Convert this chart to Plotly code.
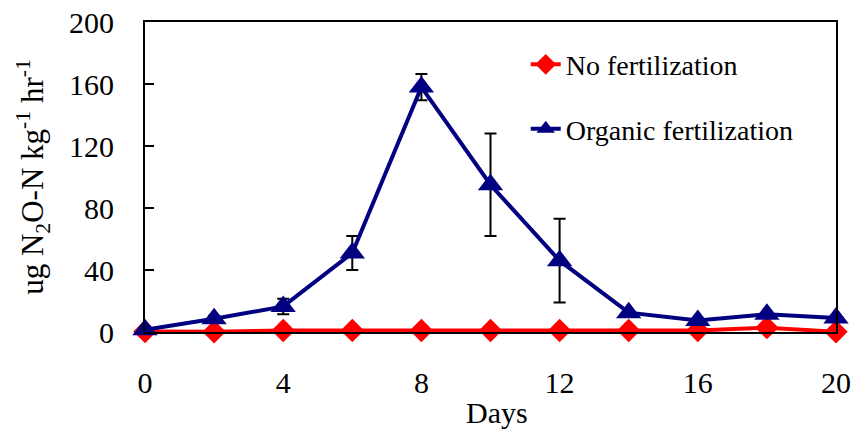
import plotly.graph_objects as go

days = [0, 2, 4, 6, 8, 10, 12, 14, 16, 18, 20]
no_fert = [0.3, 0.2, 1.0, 1.0, 1.0, 1.0, 1.0, 1.0, 1.0, 2.8, 0.2]
organic = [1.5, 8.5, 16.5, 51, 158, 95, 46, 12.5, 7.5, 11.5, 9]
organic_err = [0, 2, 5, 11, 8.5, 33, 27, 1, 1, 1, 1]
x_ticks = [0, 4, 8, 12, 16, 20]
y_ticks = [0, 40, 80, 120, 160, 200]

FONT = "Liberation Serif, Times New Roman, serif"

fig = go.Figure()
fig.add_trace(go.Scatter(
    x=days, y=no_fert, name="No fertilization", mode="lines+markers",
    line=dict(color="#ff0000", width=4),
    marker=dict(symbol="diamond", size=18, color="#ff0000"),
    legendgroup="a", cliponaxis=False,
))
fig.add_trace(go.Scatter(
    x=days, y=organic, name="Organic fertilization", mode="lines+markers",
    line=dict(color="#000080", width=4),
    marker=dict(symbol="triangle-up", size=22, color="#000080"),
    error_y=dict(type="data", array=organic_err, color="black", thickness=2, width=6),
    legendgroup="b", cliponaxis=False,
))

fig.update_layout(
    width=865, height=440,
    margin=dict(l=145, r=29, t=22, b=108, autoexpand=False),
    paper_bgcolor="white", plot_bgcolor="white",
    font=dict(family=FONT, size=30, color="black"),
    showlegend=True,
    legend=dict(x=0.551, y=0.943, xanchor="left", yanchor="top",
                bgcolor="rgba(0,0,0,0)", font=dict(size=28), tracegroupgap=25),
    annotations=[dict(text="Days", x=0.509, y=-0.261, xref="paper", yref="paper",
                      xanchor="center", yanchor="middle", showarrow=False,
                      font=dict(size=30))],
)
fig.update_xaxes(
    range=[0, 20], tickvals=x_ticks, ticks="", showgrid=False, zeroline=False,
    showline=True, linecolor="black", linewidth=2, mirror=True,
    ticklabelstandoff=23, automargin=False,
)
fig.update_yaxes(
    range=[0, 200], tickvals=y_ticks, ticks="inside", ticklen=9, tickwidth=2,
    tickcolor="black", showgrid=False, zeroline=False,
    showline=True, linecolor="black", linewidth=2, mirror=True,
    ticklabelstandoff=23, automargin=False,
    title=dict(text="ug N<sub>2</sub>O-N kg<sup>-1</sup> hr<sup>-1</sup>", standoff=16, font=dict(size=31)),
)

fig.write_html("out.html", config={"displayModeBar": False},
               post_script="document.body.style.margin='0';")
